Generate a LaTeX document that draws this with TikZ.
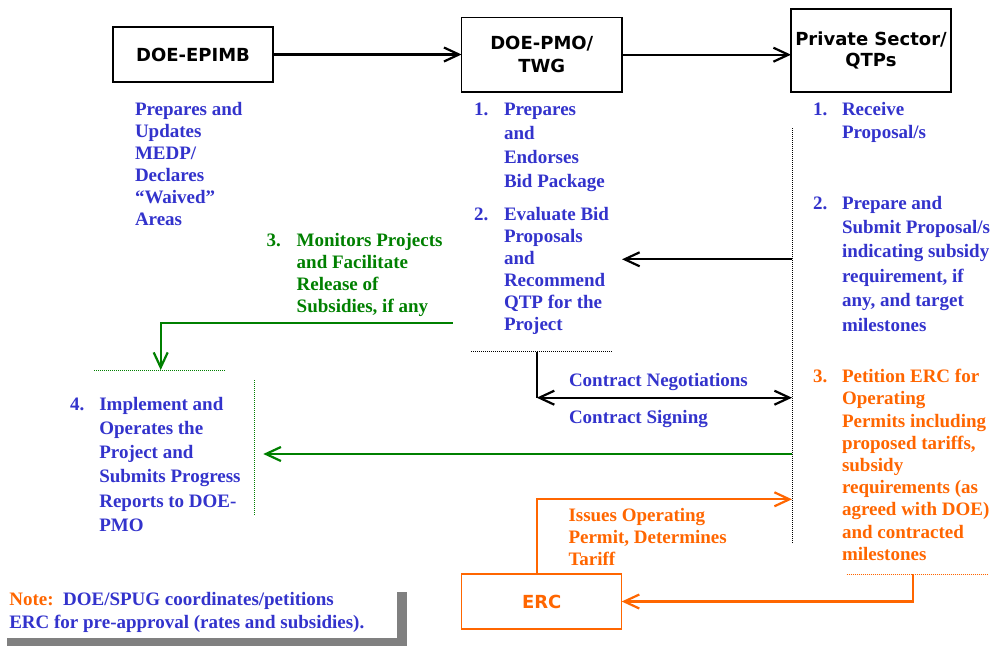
\documentclass[tikz,border=0pt]{standalone}
\usepackage{fontspec}
\setmainfont{Liberation Serif}
\newfontfamily\boxfont{DejaVu Sans}
\usetikzlibrary{arrows.meta}
\definecolor{tblue}{RGB}{51,51,204}
\definecolor{tgreen}{RGB}{0,128,0}
\definecolor{torange}{RGB}{255,102,0}
\definecolor{shadowgray}{RGB}{128,128,128}
\begin{document}
\begin{tikzpicture}[x=1pt,y=-1pt,
  every node/.style={inner sep=0pt,outer sep=0pt},
  actor/.style={draw,line width=1.4pt,minimum width=160pt,align=center},
  boxtxt/.style={font=\boxfont\bfseries\fontsize{18}{#1}\selectfont},
  txt/.style={anchor=base west,align=left,font=\bfseries\fontsize{19}{#1}\selectfont},
  btxt/.style={txt=#1,text=tblue},
  gtxt/.style={txt=#1,text=tgreen},
  otxt/.style={txt=#1,text=torange},
  arr/.style={-{Straight Barb[length=15pt,width=14pt]},line width=2.2pt},
  darr/.style={{Straight Barb[length=15pt,width=14pt]}-{Straight Barb[length=15pt,width=14pt]},line width=2.2pt},
  plain/.style={line width=2.2pt},
  dotline/.style={line width=1pt,dash pattern=on 1pt off 1pt}
]
\useasboundingbox (0,0) rectangle (997,646);
\fill[white] (0,0) rectangle (997,646);

% boxes
\node[actor,boxtxt=23,minimum height=55pt] (epimb) at (193,54.5) {DOE-EPIMB};
\node[actor,boxtxt=23.3,minimum width=160.5pt,minimum height=74.5pt] (pmo) at (541.8,54.7) {DOE-PMO/\\TWG};
\node[actor,boxtxt=21.6,minimum height=83pt] (qtp) at (871,50.5) {Private Sector/\\QTPs};
\node[actor,boxtxt=22,draw=torange,text=torange,minimum height=55pt] (erc) at (541.7,601.5) {ERC};

% texts (anchored at the baseline of their last line)
\node[btxt=22] (t0) at (135,225.7) {Prepares and\\Updates\\MEDP/\\Declares\\“Waived”\\Areas};
\node[btxt=22] (n1) at (474,115) {1.};
\node[btxt=24.3] (t1) at (504,187.9) {Prepares\\and\\Endorses\\Bid Package};
\node[btxt=22] (n2) at (474,220) {2.};
\node[btxt=22.1] (t2) at (504,330.5) {Evaluate Bid\\Proposals\\and\\Recommend\\QTP for the\\Project};
\node[btxt=22] (n3) at (813,115) {1.};
\node[btxt=23] (t3) at (842,138) {Receive\\Proposal/s};
\node[btxt=22] (n4) at (813,209) {2.};
\node[btxt=24.4] (t4) at (842,331) {Prepare and\\Submit Proposal/s\\indicating subsidy\\requirement, if\\any, and target\\milestones};
\node[otxt=22] (n5) at (813,382.7) {3.};
\node[otxt=22.2] (t5) at (842,560.3) {Petition ERC for\\Operating\\Permits including\\proposed tariffs,\\subsidy\\requirements (as\\agreed with DOE)\\and contracted\\milestones};
\node[gtxt=22] (n6) at (266.7,246.7) {3.};
\node[gtxt=22] (t6) at (296.7,312.7) {Monitors Projects\\and Facilitate\\Release of\\Subsidies, if any};
\node[btxt=22] (n7) at (70,410) {4.};
\node[btxt=24.3] (t7) at (99.3,531.5) {Implement and\\Operates the\\Project and\\Submits Progress\\Reports to DOE-\\PMO};
\node[btxt=22] (t8) at (569,386.7) {Contract Negotiations};
\node[btxt=22] (t9) at (569,423) {Contract Signing};
\node[otxt=21.7] (t10) at (568.5,565.1) {Issues Operating\\Permit, Determines\\Tariff};

% note
\fill[shadowgray] (7.3,591.7) rectangle (406.7,646);
\fill[white] (0,583.7) rectangle (397.3,638.3);
\node[btxt=23.3] (note) at (9.3,628.3) {{\color{torange}Note:}\ \ DOE/SPUG coordinates/petitions\\ERC for pre-approval (rates and subsidies).};

% dotted guide lines
\coordinate (dtop) at (792,128);
\coordinate (dbot) at (792,543);
\draw[dotline] (dtop) -- (dbot);
\draw[dotline] (471,351.7) -- (612,351.7);
\draw[dotline,tgreen] (94.3,370) -- (225.3,370);
\draw[dotline,tgreen] (254.3,380) -- (254.3,516);
\draw[dotline,torange] (846.7,574) -- (988,574);

% connectors
\draw[arr] (epimb.east) -- (epimb.east -| pmo.west);
\draw[arr] (pmo.east) -- (pmo.east -| qtp.west);
\coordinate (p2) at (792,259.3);
\draw[arr] (p2) -- (p2 -| pmo.east);
\coordinate (cn) at (536.7,351.7);
\coordinate (cc) at (536.7,397.7);
\coordinate (cr) at (792,397.7);
\draw[plain] (cn) -- (cc);
\draw[darr] (cc) -- (cr);
\coordinate (g1) at (452.7,323.3);
\coordinate (g2) at (160.7,370);
\draw[arr,tgreen] (g1) -| (g2);
\coordinate (g3) at (792,454);
\coordinate (g4) at (263.3,454);
\draw[arr,tgreen] (g3) -- (g4);
\coordinate (o1) at (537,574);
\coordinate (o2) at (792,499.3);
\draw[arr,torange] (o1) |- (o2);
\coordinate (o3) at (913.3,574);
\draw[arr,torange] (o3) |- (erc.east);
\end{tikzpicture}
\end{document}
